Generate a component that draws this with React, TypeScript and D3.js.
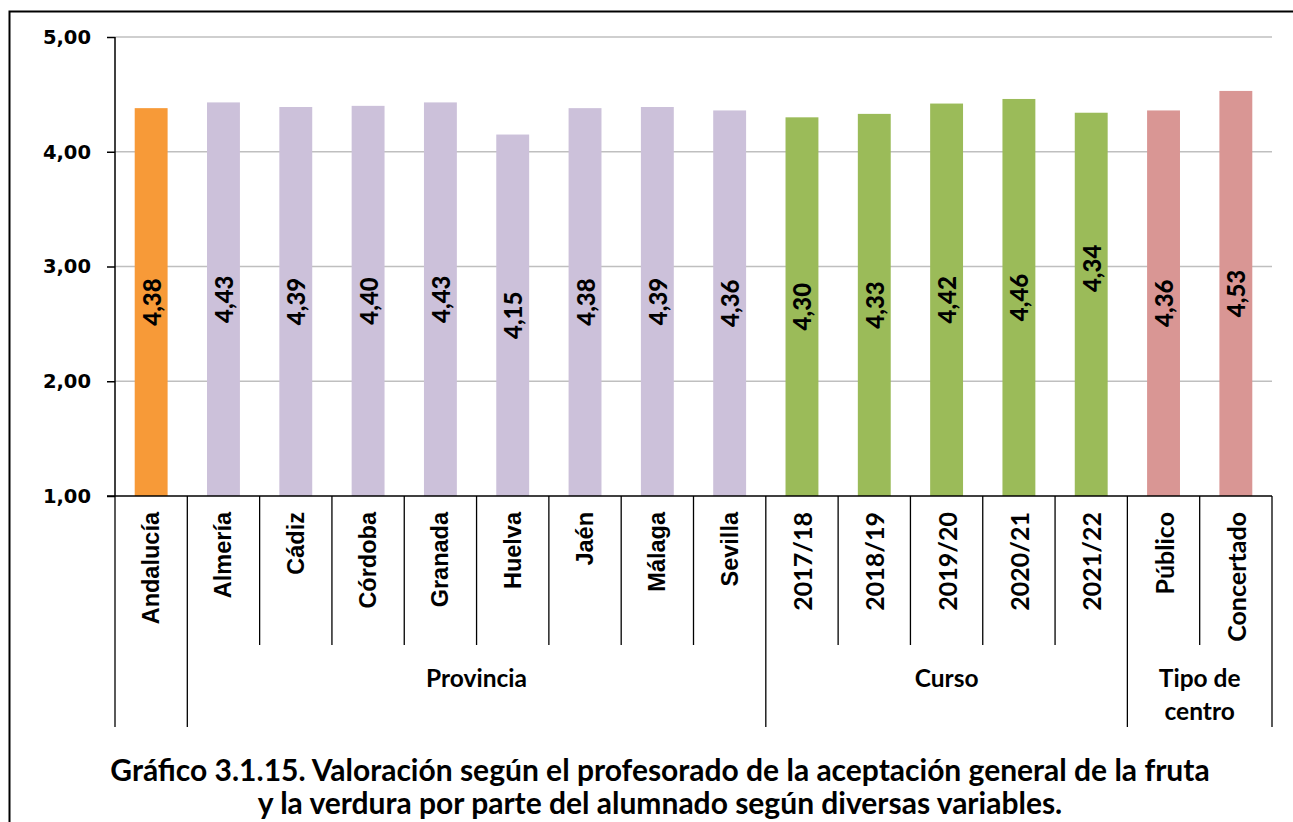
import React, { useEffect, useRef } from "react";
import * as d3 from "d3";

// chart data
const categories = [
  "Andalucía", "Almería", "Cádiz", "Córdoba", "Granada", "Huelva", "Jaén", "Málaga", "Sevilla",
  "2017/18", "2018/19", "2019/20", "2020/21", "2021/22",
  "Público", "Concertado",
];
const values = [4.38, 4.43, 4.39, 4.40, 4.43, 4.15, 4.38, 4.39, 4.36, 4.30, 4.33, 4.42, 4.46, 4.34, 4.36, 4.53];
const groupNames = ["", "Provincia", "Curso", "Tipo de centro"];
const groupSizes = [1, 8, 5, 2];
const groupColors = ["#F79A38", "#CCC1DA", "#9BBB59", "#D99694"];
const yTicks = [1, 2, 3, 4, 5];
const titleLines = [
  "Gráfico 3.1.15. Valoración según el profesorado de la aceptación general de la fruta",
  "y la verdura por parte del alumnado según diversas variables.",
];

const W = 1293, H = 822;
const CAL = "Lato, 'Open Sans', sans-serif";
const ARIAL = "'Liberation Sans', Arial, sans-serif";
const VERD = "'DejaVu Sans', Verdana, sans-serif";

export default function App() {
  const ref = useRef<SVGSVGElement>(null);

  useEffect(() => {
    const svg = d3.select(ref.current);
    svg.selectAll("*").remove();

    const left = 115, right = 1272, top = 37, bottom = 496;
    const x = d3.scaleBand().domain(categories).range([left, right]).paddingInner(0.545).paddingOuter(0.2725);
    const y = d3.scaleLinear().domain([1, 5]).range([bottom, top]);
    const step = x.step();

    // which group each category falls in
    const groupOf: number[] = [];
    groupSizes.forEach((n, gi) => { for (let i = 0; i < n; i++) groupOf.push(gi); });

    // outer frame
    svg.append("path")
      .attr("d", `M9.5,${H + 5} V11.5 H${W + 5}`)
      .attr("fill", "none").attr("stroke", "#000").attr("stroke-width", 2);

    // gridlines
    svg.append("g").selectAll("line")
      .data(yTicks.filter(t => t > 1))
      .join("line")
      .attr("x1", left).attr("x2", right)
      .attr("y1", d => y(d)).attr("y2", d => y(d))
      .attr("stroke", "#BFBFBF").attr("stroke-width", 1.5);

    // bars
    svg.append("g").selectAll("rect")
      .data(values)
      .join("rect")
      .attr("x", (d, i) => x(categories[i])!)
      .attr("width", x.bandwidth())
      .attr("y", d => y(d))
      .attr("height", d => y(1) - y(d))
      .attr("fill", (d, i) => groupColors[groupOf[i]]);

    // value labels, rotated, centred in the bar
    const shift: Record<string, number> = { "2021/22": -36 };
    svg.append("g").selectAll("text")
      .data(values)
      .join("text")
      .attr("transform", (d, i) => {
        const cx = x(categories[i])! + x.bandwidth() / 2;
        const cy = (y(d) + y(1)) / 2 + (shift[categories[i]] || 0);
        return `translate(${cx},${cy}) rotate(-90)`;
      })
      .attr("text-anchor", "middle")
      .attr("dominant-baseline", "central")
      .style("font-family", CAL).style("font-weight", 900).style("font-size", "24px")
      .text(d => d3.format(".2f")(d).replace(".", ","));

    // y axis
    const yAxis = svg.append("g")
      .attr("transform", `translate(${left},0)`)
      .call(d3.axisLeft(y).tickValues(yTicks).tickSize(8).tickPadding(16)
        .tickFormat(d => d3.format(".2f")(d as number).replace(".", ",")));
    yAxis.select(".domain").attr("stroke", "#000").attr("stroke-width", 1.5).attr("d", `M0,${top}V${bottom}`);
    yAxis.selectAll(".tick line").attr("stroke", "#000").attr("stroke-width", 1.5);
    yAxis.selectAll(".tick text")
      .style("font-family", VERD).style("font-weight", "bold").style("font-size", "19.5px").attr("fill", "#000");

    // category axis line
    svg.append("line")
      .attr("x1", left - 8).attr("x2", right)
      .attr("y1", bottom).attr("y2", bottom)
      .attr("stroke", "#000").attr("stroke-width", 1.5);

    // separators between categories; longer ones between groups
    const bounds = d3.range(categories.length + 1);
    const groupStarts = new Set<number>([0, categories.length]);
    d3.cumsum(groupSizes).forEach(v => groupStarts.add(v));
    svg.append("g").selectAll("line")
      .data(bounds)
      .join("line")
      .attr("x1", k => left + k * step).attr("x2", k => left + k * step)
      .attr("y1", bottom).attr("y2", k => groupStarts.has(k) ? 727 : 645)
      .attr("stroke", "#000").attr("stroke-width", 1.3);

    // category labels
    svg.append("g").selectAll("text")
      .data(categories)
      .join("text")
      .attr("transform", (d, i) => `translate(${x(d)! + x.bandwidth() / 2},${bottom + 16}) rotate(-90)`)
      .attr("text-anchor", "end")
      .attr("dominant-baseline", "central")
      .style("font-family", (d, i) => groupOf[i] < 2 ? ARIAL : CAL)
      .style("font-weight", "bold")
      .style("font-size", (d, i) => groupOf[i] < 2 ? "23.5px" : "25px")
      .text(d => d);

    // group labels
    const starts = [0, ...d3.cumsum(groupSizes)];
    groupNames.forEach((name, gi) => {
      if (!name) return;
      const cx = left + ((starts[gi] + starts[gi + 1]) / 2) * step;
      const words = groupSizes[gi] <= 2 ? ["Tipo de", "centro"] : [name];
      const t = svg.append("text")
        .attr("x", cx)
        .attr("text-anchor", "middle")
        .style("font-family", CAL).style("font-weight", "bold").style("font-size", "24.5px");
      words.forEach((w, wi) => {
        t.append("tspan").attr("x", cx).attr("y", 687 + wi * 33).text(w);
      });
    });

    // title
    svg.append("g").selectAll("text")
      .data(titleLines)
      .join("text")
      .attr("x", 660).attr("y", (d, i) => 781 + i * 33)
      .attr("text-anchor", "middle")
      .style("font-family", CAL).style("font-weight", "bold").style("font-size", "30px")
      .text(d => d);
  }, []);

  return (
    <svg ref={ref} width={W} height={H}
      style={{ position: "absolute", left: 0, top: 0, background: "#fff" }} />
  );
}
